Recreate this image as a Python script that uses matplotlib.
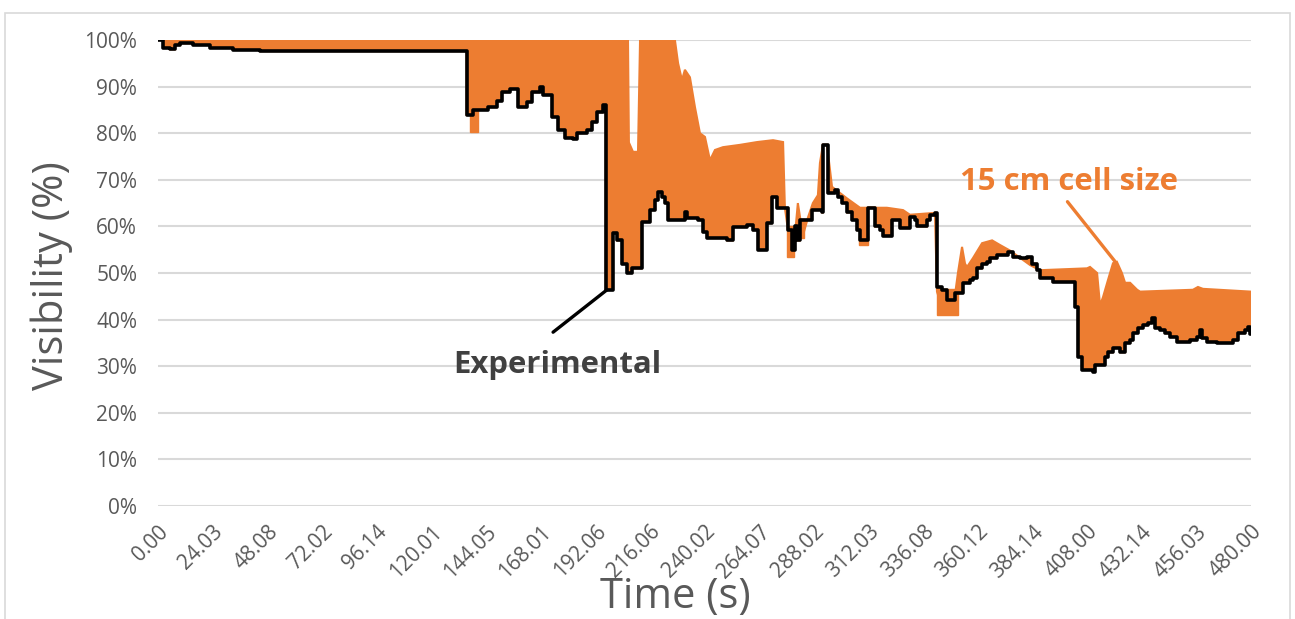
import numpy as np
import matplotlib
matplotlib.use("Agg")
import matplotlib.pyplot as plt
from matplotlib.patches import Rectangle

plt.rcParams['font.family'] = ['Open Sans', 'DejaVu Sans']

# ---------------- data ----------------
tick_labels = ["0.00", "24.03", "48.08", "72.02", "96.14", "120.01", "144.05",
               "168.01", "192.06", "216.06", "240.02", "264.07", "288.02",
               "312.03", "336.08", "360.12", "384.14", "408.00", "432.14",
               "456.03", "480.00"]

# Experimental (black, step-like)
exp_t = [0, 2.2, 5.3, 7.5, 9.7, 15.4, 22.8, 32.9, 44.8, 135.3, 135.5, 138.3,
         144.9, 148.9, 151.1, 154.6, 158.1, 162.0, 164.2, 167.8, 169.1, 173.0,
         175.7, 178.7, 182.3, 184.0, 188.4, 190.6, 192.8, 195.4, 196.6, 199.8,
         201.6, 203.8, 206.0, 208.2, 211.7, 212.5, 216.1, 218.3, 219.6, 221.3,
         222.6, 224.0, 229.2, 231.4, 232.3, 237.1, 239.3, 241.1, 249.9, 252.5,
         258.6, 261.3, 263.5, 266.6, 267.4, 269.6, 271.8, 275.3, 276.7, 278.4,
         279.7, 280.6, 281.9, 285.0, 287.2, 291.6, 292.0, 293.8, 294.2, 297.3,
         298.6, 300.4, 302.6, 304.8, 307.0, 308.3, 311.4, 311.8, 314.0, 314.9,
         317.1, 318.4, 320.6, 322.3, 324.5, 325.9, 329.0, 330.2, 332.5, 333.3,
         336.0, 337.7, 339.0, 341.2, 342.1, 344.3, 346.5, 348.7, 350.0, 352.2,
         353.5, 356.6, 357.9, 359.7, 361.9, 364.1, 365.4, 368.4, 371.1, 373.3,
         375.5, 378.5, 381.6, 383.8, 386.0, 387.3, 393.0, 401.8, 402.7, 404.0,
         405.8, 410.6, 411.5, 414.6, 415.9, 417.2, 419.4, 422.5, 424.7, 426.9,
         428.2, 430.4, 432.6, 434.8, 436.5, 437.8, 440.0, 442.2, 444.4, 447.5,
         453.2, 456.3, 457.6, 458.5, 460.7, 465.1, 472.1, 474.3, 477.4, 478.7,
         479.6, 480.0]
exp_v = [100, 98.3, 98.0, 98.9, 99.3, 99.0, 98.3, 97.9, 97.6, 97.6, 83.9, 85.0,
         85.6, 87.0, 88.8, 89.5, 85.6, 86.7, 88.8, 90.0, 88.2, 83.5,
         80.7, 79.0, 78.8, 80.0, 80.7, 82.4, 84.5, 86.0, 46.4, 58.6,
         57.0, 52.0, 50.0, 51.0, 51.0, 61.0, 63.5, 65.7, 67.4, 66.3,
         65.0, 61.4, 61.4, 63.0, 61.8, 61.4, 58.8, 57.5, 57.0, 59.9,
         60.3, 59.2, 55.0, 55.0, 60.7, 66.3, 64.0, 64.0, 59.2, 55.0,
         60.0, 57.0, 61.4, 61.4, 63.5, 63.0, 77.5, 77.5, 67.2, 67.8,
         66.3, 65.0, 63.0, 61.4, 59.2, 57.0, 57.0, 64.0, 64.0, 60.0,
         59.2, 58.0, 58.0, 61.4, 61.4, 59.7, 59.7, 62.0, 61.4, 60.0,
         60.0, 61.4, 62.4, 62.9, 47.0, 46.4, 44.2, 44.2, 45.7, 45.7,
         47.9, 48.5, 49.0, 51.0, 52.0, 52.4, 53.2, 53.9, 53.9, 54.5,
         53.4, 53.2, 53.4, 52.0, 50.6, 49.0, 48.1, 48.1, 42.7, 32.0,
         29.2, 28.8, 30.3, 30.3, 32.0, 33.0, 33.9, 33.0, 35.0, 35.6,
         37.1, 38.2, 38.8, 39.3, 40.3, 38.2, 37.8, 37.1, 36.3, 35.2,
         35.6, 36.3, 37.8, 36.0, 35.2, 35.0, 35.6, 37.1, 37.8, 38.4,
         37.0, 37.5]

# 15 cm cell size (orange) - upper envelope of the oscillating band
cell_up_t = [0, 206.4, 206.8, 208.6, 210.8, 211.7, 227.0, 228.4, 230.1, 231.4,
             233.6, 235.8, 238.0, 240.2, 242.4, 244.6, 248.1, 255.6, 263.1,
             270.1, 274.5, 275.3, 277.6, 279.7, 281.0, 283.2, 285.5, 287.6,
             289.8, 290.7, 292.0, 293.8, 296.0, 302.6, 308.3, 320.1, 327.2,
             330.2, 341.2, 342.1, 344.7, 349.1, 351.3, 353.1, 354.4, 355.3,
             357.9, 361.9, 366.3, 369.8, 374.2, 383.0, 387.3, 408.0, 409.3,
             412.4, 413.7, 415.0, 417.2, 419.4, 421.1, 423.3, 424.7, 426.9,
             430.0, 431.3, 454.5, 456.7, 458.9, 480.0]
cell_up_v = [100, 100, 78, 76, 76, 100, 100, 95, 91.4, 93.6,
             92, 85.6, 80, 79.2, 74.2, 76.4, 77, 77.5, 78.1,
             78.5, 78.1, 64, 56, 58, 65, 58, 62, 65,
             66.7, 73.6, 77.5, 77.5, 68.5, 66, 64, 64, 63.5,
             62.5, 62.9, 46, 42, 42, 50, 55.6, 52, 51.3,
             53.2, 56.4, 57, 56, 54.8, 51.7, 50.6, 51, 51.3,
             50, 43.1, 44.8, 48.5, 52.1, 52.4, 50, 47.9, 47.9,
             46.4, 46, 46.4, 47, 46.6, 46]

# orange excursions below the experimental curve (start, end, low, top)
dip_t0 = [136.8, 276.4, 281.4, 307.8, 342.0]
dip_t1 = [140.4, 279.2, 283.6, 311.6, 351.5]
dip_lo = [80.3, 53.5, 57.5, 56.0, 41.0]
dip_hi = [85.0, 60.0, 61.5, 58.0, 46.5]

# annotation anchors (label position, leader line start -> end)
exp_label_pos = (129.6, 28.5)
exp_leader = ((173.5, 37.3), (197.2, 46.4))
cell_label_pos = (352.0, 67.8)
cell_leader = ((399.4, 65.3), (420.4, 52.4))

ORANGE = "#ED7D31"
GRAY = "#595959"

# ---------------- figure ----------------
W, H = 1295, 619
fig = plt.figure(figsize=(W / 100, H / 100), dpi=100)
ax = fig.add_axes([158 / W, 1 - 506 / H, (1251 - 158) / W, (506 - 40) / H])

# chart border
fig.patches.append(Rectangle((5 / W, -0.05), (1290 - 5) / W, 1.05 - 13 / H,
                             transform=fig.transFigure, fill=False,
                             edgecolor="#D9D9D9", lw=1.2))

# orange band: between its upper envelope and the (stepped) experimental curve
et = np.asarray(exp_t, float)
ev = np.asarray(exp_v, float)
step_x = np.repeat(et, 2)[1:]
step_y = np.repeat(ev, 2)[:-1]
poly_x = np.concatenate([cell_up_t, step_x[::-1]])
poly_y = np.concatenate([cell_up_v, step_y[::-1]])
ax.fill(poly_x, poly_y, color=ORANGE, lw=1.5, edgecolor=ORANGE, zorder=2)
ax.bar(dip_t0, np.subtract(dip_hi, dip_lo), width=np.subtract(dip_t1, dip_t0),
       bottom=dip_lo, align="edge", color=ORANGE, edgecolor=ORANGE, lw=1, zorder=2)

ax.plot(et, ev, drawstyle="steps-post", color="black", lw=2.6,
        solid_joinstyle="round", solid_capstyle="round", zorder=3)

# axes styling
ax.set_xlim(0, 480)
ax.set_ylim(0, 100)
ax.set_yticks(np.arange(0, 101, 10))
ax.set_yticklabels([f"{v}%" for v in range(0, 101, 10)], color=GRAY, fontsize=15)
ax.set_xticks(np.arange(0, 481, 24))
ax.set_xticklabels(tick_labels, rotation=45, ha="right", va="top",
                   rotation_mode="anchor", color=GRAY, fontsize=15)
ax.tick_params(axis="y", length=0, pad=15)
ax.tick_params(axis="x", length=0, pad=11)
ax.grid(axis="y", color="#D9D9D9", lw=1.5, zorder=0)
ax.set_axisbelow(True)
for s in ax.spines.values():
    s.set_visible(False)

fig.text(52 / W, 1 - 276 / H, "Visibility (%)", rotation=90, ha="center",
         va="center", color=GRAY, fontsize=30)
fig.text(675 / W, 1 - 597 / H, "Time (s)", ha="center", va="center",
         color=GRAY, fontsize=30)

# annotations
ax.text(*exp_label_pos, "Experimental", ha="left", va="baseline", fontsize=22.4,
        fontweight="bold", color="#404040", zorder=5)
ax.annotate("", xy=exp_leader[1], xytext=exp_leader[0],
            arrowprops=dict(arrowstyle="-", color="black", lw=2.4,
                            shrinkA=0, shrinkB=0), zorder=5)
ax.text(*cell_label_pos, "15 cm cell size", ha="left", va="baseline", fontsize=22.4,
        fontweight="bold", color=ORANGE, zorder=5)
ax.annotate("", xy=cell_leader[1], xytext=cell_leader[0],
            arrowprops=dict(arrowstyle="-", color=ORANGE, lw=2.4,
                            shrinkA=0, shrinkB=0), zorder=5)

fig.savefig("out.png", dpi=100)
